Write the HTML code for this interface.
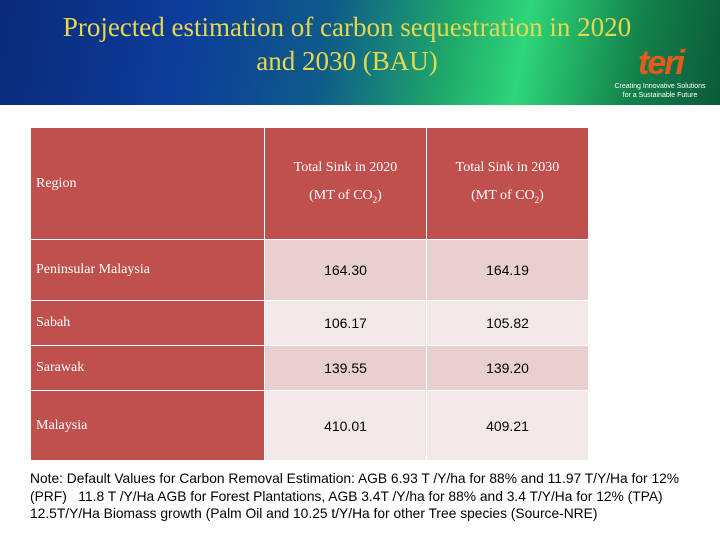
<!DOCTYPE html>
<html><head><meta charset="utf-8"><style>
body{margin:0;width:720px;height:540px;background:#fff;position:relative;overflow:hidden;font-family:"Liberation Sans",sans-serif}
#banner{position:absolute;left:0;top:0;width:720px;height:105px;background:linear-gradient(100deg,#0a2a78 0%,#0d3c9a 25%,#0e5a8a 45%,#1fa86a 62%,#2ed57a 72%,#12804a 88%,#0b5a3a 100%)}
#title{position:absolute;left:0;top:10px;width:694px;text-align:center;color:#e6d84e;font-family:"Liberation Serif",serif;font-size:27px;line-height:34px}
#logo{position:absolute;left:638px;top:44px;color:#e85a1a;font-family:"Liberation Sans",sans-serif;font-weight:bold;font-style:italic;font-size:34px;letter-spacing:-2px}
#tag{position:absolute;left:604px;top:82px;width:112px;text-align:center;color:#fff;font-size:7px;line-height:9px}
table{position:absolute;left:30px;top:127px;border-collapse:collapse;width:558px;table-layout:fixed}
td{border:1px solid #fff;padding:0}
.h{background:#c0504d;color:#fff;font-family:"Liberation Serif",serif;font-size:14px}
.r1{background:#e8cfd0}.r2{background:#f3e8e8}
.v{text-align:center;font-size:14px;color:#000}
#note{position:absolute;left:30px;top:470px;width:690px;font-size:13.8px;line-height:17.5px;color:#000;white-space:nowrap}
</style></head><body>
<div id="banner"></div>
<div id="title">Projected estimation of carbon sequestration in 2020<br>and 2030 (BAU)</div>
<div id="logo">teri</div>
<div id="tag">Creating Innovative Solutions<br>for a Sustainable Future</div>
<table>
<colgroup><col style="width:234px"><col style="width:162px"><col style="width:162px"></colgroup>
<tr style="height:112px"><td class="h" style="padding-left:5px">Region</td>
<td class="h" style="text-align:center;line-height:28px">Total Sink in 2020<br>(MT of CO<sub style="font-size:9px">2</sub>)</td>
<td class="h" style="text-align:center;line-height:28px">Total Sink in 2030<br>(MT of CO<sub style="font-size:9px">2</sub>)</td></tr>
<tr style="height:61px"><td class="h" style="padding-left:5px">Peninsular Malaysia</td><td class="v r1">164.30</td><td class="v r1">164.19</td></tr>
<tr style="height:45px"><td class="h" style="padding-left:5px">Sabah</td><td class="v r2">106.17</td><td class="v r2">105.82</td></tr>
<tr style="height:45px"><td class="h" style="padding-left:5px">Sarawak</td><td class="v r1">139.55</td><td class="v r1">139.20</td></tr>
<tr style="height:70px"><td class="h" style="padding-left:5px">Malaysia</td><td class="v r2">410.01</td><td class="v r2">409.21</td></tr>
</table>
<div id="note">Note: Default Values for Carbon Removal Estimation: AGB 6.93 T /Y/ha for 88% and 11.97 T/Y/Ha for 12%<br>(PRF)&nbsp;&nbsp; 11.8 T /Y/Ha AGB for Forest Plantations, AGB 3.4T /Y/ha for 88% and 3.4 T/Y/Ha for 12% (TPA)<br>12.5T/Y/Ha Biomass growth (Palm Oil and 10.25 t/Y/Ha for other Tree species (Source-NRE)</div>
</body></html>
